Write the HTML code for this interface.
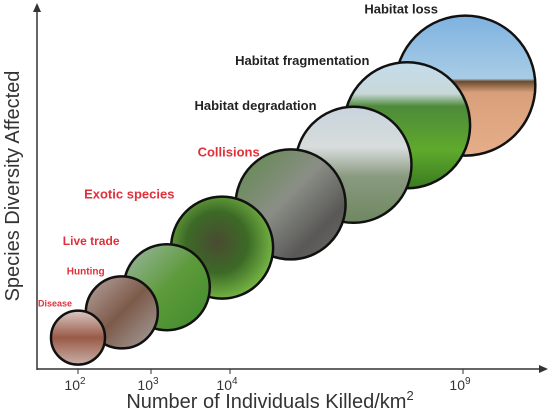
<!DOCTYPE html>
<html><head><meta charset="utf-8"><style>
html,body{margin:0;padding:0;background:#fff;width:550px;height:413px;overflow:hidden}
svg{display:block;font-family:"Liberation Sans",sans-serif}
</style></head><body>
<svg id="chart" width="550" height="413" viewBox="0 0 550 413">
<defs>
<linearGradient id="g0" x1="0" y1="0" x2="0" y2="1"><stop offset="0" stop-color="#d9c9c4"/><stop offset="0.5" stop-color="#9a5a48"/><stop offset="1" stop-color="#c8b0a8"/></linearGradient>
<linearGradient id="g1" x1="0" y1="0" x2="1" y2="1"><stop offset="0" stop-color="#b9a6a0"/><stop offset="0.5" stop-color="#7c5a4a"/><stop offset="1" stop-color="#a8a2a0"/></linearGradient>
<linearGradient id="g2" x1="0" y1="0" x2="1" y2="1"><stop offset="0" stop-color="#9fb8a8"/><stop offset="0.5" stop-color="#5d9a3a"/><stop offset="1" stop-color="#3f8a2c"/></linearGradient>
<radialGradient id="g3" cx="0.45" cy="0.45" r="0.6"><stop offset="0" stop-color="#4a4a32"/><stop offset="0.5" stop-color="#3c6a26"/><stop offset="1" stop-color="#7ec048"/></radialGradient>
<linearGradient id="g4" x1="0" y1="0" x2="1" y2="1"><stop offset="0" stop-color="#5e8a48"/><stop offset="0.45" stop-color="#8a8e86"/><stop offset="0.75" stop-color="#5a5856"/><stop offset="1" stop-color="#6e6c68"/></linearGradient>
<linearGradient id="g5" x1="0" y1="0" x2="0" y2="1"><stop offset="0" stop-color="#c8d4dc"/><stop offset="0.35" stop-color="#d8dcdc"/><stop offset="0.6" stop-color="#8a9a80"/><stop offset="1" stop-color="#6e8860"/></linearGradient>
<linearGradient id="g6" x1="0" y1="0" x2="0" y2="1"><stop offset="0" stop-color="#c4dcec"/><stop offset="0.25" stop-color="#c8d8d8"/><stop offset="0.35" stop-color="#4e8a3a"/><stop offset="0.7" stop-color="#5eaa2c"/><stop offset="1" stop-color="#3a7a22"/></linearGradient>
<linearGradient id="g7" x1="0" y1="0" x2="0" y2="1"><stop offset="0" stop-color="#7eb2e0"/><stop offset="0.45" stop-color="#a8cce6"/><stop offset="0.47" stop-color="#6a4a30"/><stop offset="0.55" stop-color="#d8a07a"/><stop offset="1" stop-color="#e6ad8a"/></linearGradient>
</defs>
<g id="axes">
<line x1="37" y1="370" x2="37" y2="8" stroke="#333" stroke-width="1.5"/>
<polygon points="37,3 33,12 41,12" fill="#333"/>
<line x1="37" y1="369" x2="542" y2="369" stroke="#333" stroke-width="1.5"/>
<polygon points="548,369 539,365 539,373" fill="#333"/>
</g>
<g id="ticks"></g>
<g id="marks"></g>
<text x="270" y="408" text-anchor="middle" font-size="20" fill="#333">Number of Individuals Killed/km<tspan font-size="13" dy="-8">2</tspan></text>
<text transform="translate(19,186) rotate(-90)" text-anchor="middle" font-size="20" fill="#333">Species Diversity Affected</text>
</svg>
<script>
const categories = ["Disease","Hunting","Live trade","Exotic species","Collisions","Habitat degradation","Habitat fragmentation","Habitat loss"];
const logKilled = [2.0,2.6,3.2,3.9,5.3,6.65,7.8,9.05];
const diversity = [9,16,23,34,46,57,68,79];
const impactSize = [27,36,43,51,55,58,63,70];
const tickExp = [2,3,4,9];
const tickLabels = ["10","10","10","10"];
const tickPx = [78,151,230,463];
const labelColor = ["#e0303a","#e0303a","#e0303a","#e0303a","#e0303a","#222","#222","#222"];
const labelSize = [9,10,12,13,13,13,13,13];
const labelDx = [-40,-55,-104,-138,-93,-159,-172,-101];
const labelDy = [-31,-38,-42,-49,-48,-55,-60,-72];

function xScale(v){
  for(let i=0;i<tickExp.length-1;i++){
    if(v<=tickExp[i+1]||i===tickExp.length-2){
      const t=(v-tickExp[i])/(tickExp[i+1]-tickExp[i]);
      return tickPx[i]+t*(tickPx[i+1]-tickPx[i]);
    }
  }
}
function yScale(v){return 370-v*3.6;}
const NS="http://www.w3.org/2000/svg";
const ticks=document.getElementById('ticks');
tickExp.forEach((e,i)=>{
  const x=xScale(e);
  const l=document.createElementNS(NS,'line');
  l.setAttribute('x1',x);l.setAttribute('x2',x);l.setAttribute('y1',369);l.setAttribute('y2',374);
  l.setAttribute('stroke','#333');
  
  
  ticks.appendChild(l);
  const t=document.createElementNS(NS,'text');
  t.setAttribute('x',x-3);t.setAttribute('y',390);t.setAttribute('text-anchor','middle');
  t.setAttribute('font-size','14');t.setAttribute('fill','#333');
  t.innerHTML=tickLabels[i]+'<tspan font-size="10" dy="-6">'+e+'</tspan>';
  
  
  ticks.appendChild(t);
});
const marks=document.getElementById('marks');
for(let i=categories.length-1;i>=0;i--){
  const cx=xScale(logKilled[i]), cy=yScale(diversity[i]), r=impactSize[i];
  const c=document.createElementNS(NS,'circle');
  c.setAttribute('cx',cx);c.setAttribute('cy',cy);c.setAttribute('r',r);
  c.setAttribute('fill','url(#g'+i+')');c.setAttribute('stroke','#111');c.setAttribute('stroke-width','2.5');
  
  
  marks.appendChild(c);
}
categories.forEach((name,i)=>{
  const cx=xScale(logKilled[i]), cy=yScale(diversity[i]);
  const t=document.createElementNS(NS,'text');
  t.setAttribute('x',cx+labelDx[i]);t.setAttribute('y',cy+labelDy[i]);
  t.setAttribute('font-size',labelSize[i]);t.setAttribute('font-weight','bold');
  t.setAttribute('fill',labelColor[i]);
  t.textContent=name;
  
  
  marks.appendChild(t);
});
</script>
</body></html>
